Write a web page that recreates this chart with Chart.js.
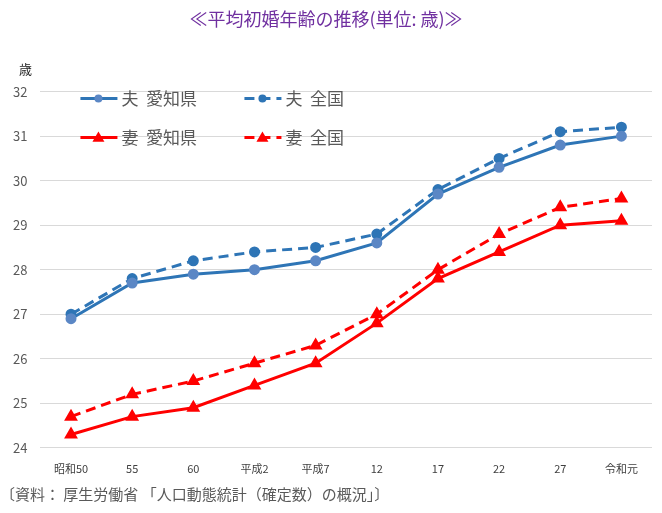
<!DOCTYPE html>
<html>
<head>
<meta charset="utf-8">
<script src="https://cdn.jsdelivr.net/npm/chart.js@4"></script>
<style>
  html, body { margin: 0; padding: 0; background: #fff; }
  #wrap { width: 662px; height: 513px; }
</style>
</head>
<body>
<div id="wrap"><canvas id="chart" width="662" height="513"></canvas></div>
<script>
// 年（和暦）
const years = ['昭和50', '55', '60', '平成2', '平成7', '12', '17', '22', '27', '令和元'];

// 平均初婚年齢（歳）
const husbandAichi = [26.9, 27.7, 27.9, 28.0, 28.2, 28.6, 29.7, 30.3, 30.8, 31.0];
const husbandJapan = [27.0, 27.8, 28.2, 28.4, 28.5, 28.8, 29.8, 30.5, 31.1, 31.2];
const wifeAichi = [24.3, 24.7, 24.9, 25.4, 25.9, 26.8, 27.8, 28.4, 29.0, 29.1];
const wifeJapan = [24.7, 25.2, 25.5, 25.9, 26.3, 27.0, 28.0, 28.8, 29.4, 29.6];

const yTicks = [24, 25, 26, 27, 28, 29, 30, 31, 32];

const FONT = "'Noto Sans CJK JP', 'Noto Sans', sans-serif";
const BLUE = '#2E75B6';
const RED = '#FF0000';

// legend drawn inside the plot area (line + marker, 2 x 2)
const insideLegend = {
    id: 'insideLegend',
    afterDraw(chart) {
        const ctx = chart.ctx;
        const area = chart.chartArea;
        const spots = [[40, 7], [204, 7], [40, 46], [204, 46]];
        chart.data.datasets.forEach(function (ds, i) {
            const x = area.left + spots[i][0];
            const y = area.top + spots[i][1];
            ctx.save();
            ctx.strokeStyle = ds.borderColor;
            ctx.lineWidth = ds.borderWidth;
            ctx.setLineDash(ds.borderDash || []);
            ctx.beginPath();
            ctx.moveTo(x, y);
            ctx.lineTo(x + 37, y);
            ctx.stroke();
            ctx.setLineDash([]);
            ctx.fillStyle = ds.pointBackgroundColor;
            const cx = x + 18;
            if (ds.pointStyle === 'triangle') {
                const r = ds.pointRadius + 1;
                ctx.beginPath();
                ctx.moveTo(cx, y - r);
                ctx.lineTo(cx + r, y + r * 0.7);
                ctx.lineTo(cx - r, y + r * 0.7);
                ctx.closePath();
                ctx.fill();
            } else {
                ctx.beginPath();
                ctx.arc(cx, y, ds.pointRadius, 0, Math.PI * 2);
                ctx.fill();
            }
            ctx.fillStyle = '#595959';
            ctx.font = '17px ' + FONT;
            ctx.textBaseline = 'middle';
            ctx.fillText(ds.label, x + 41, y);
            ctx.restore();
        });
        // unit label
        ctx.save();
        ctx.fillStyle = '#262626';
        ctx.font = '13px ' + FONT;
        ctx.textBaseline = 'middle';
        ctx.fillText('歳', 19, area.top - 23);
        ctx.restore();
    }
};

function line(label, data, color, dashed, style, pointColor) {
    return {
        label: label,
        data: data,
        borderColor: color,
        backgroundColor: pointColor,
        pointBackgroundColor: pointColor,
        pointBorderColor: pointColor,
        borderWidth: 3,
        borderDash: dashed ? [10, 6] : [],
        pointStyle: style,
        pointRadius: style === 'triangle' ? 5 : 4,
        tension: 0
    };
}

new Chart(document.getElementById('chart'), {
    type: 'line',
    data: {
        labels: years,
        datasets: [
            line('夫  愛知県', husbandAichi, BLUE, false, 'circle', '#5B87C5'),
            line('夫  全国', husbandJapan, BLUE, true, 'circle', BLUE),
            line('妻  愛知県', wifeAichi, RED, false, 'triangle', RED),
            line('妻  全国', wifeJapan, RED, true, 'triangle', RED)
        ]
    },
    options: {
        responsive: false,
        animation: false,
        layout: { padding: { left: 0, right: 10, top: 0, bottom: 0 } },
        plugins: {
            legend: { display: false },
            tooltip: { enabled: false },
            title: {
                display: true,
                text: '≪平均初婚年齢の推移(単位: 歳)≫',
                color: '#7030A0',
                font: { family: FONT, size: 18, weight: 'normal' },
                padding: { top: 8, bottom: 62 }
            },
            subtitle: {
                display: true,
                position: 'bottom',
                align: 'start',
                text: '〔資料： 厚生労働省 「人口動態統計（確定数）の概況」〕',
                color: '#595959',
                font: { family: FONT, size: 15 },
                padding: { top: 4, bottom: 10 }
            }
        },
        scales: {
            x: {
                offset: true,
                grid: { display: false },
                border: { display: false },
                ticks: { color: '#404040', font: { family: FONT, size: 11 }, maxRotation: 0, autoSkip: false, padding: 6 }
            },
            y: {
                min: 24,
                max: 32,
                afterBuildTicks(axis) { axis.ticks = yTicks.map(function (v) { return { value: v }; }); },
                grid: { color: '#D9D9D9', lineWidth: 1, drawTicks: false },
                border: { display: false },
                ticks: { color: '#595959', font: { family: FONT, size: 13 }, padding: 13 }
            }
        }
    },
    plugins: [insideLegend]
});
</script>
</body>
</html>
